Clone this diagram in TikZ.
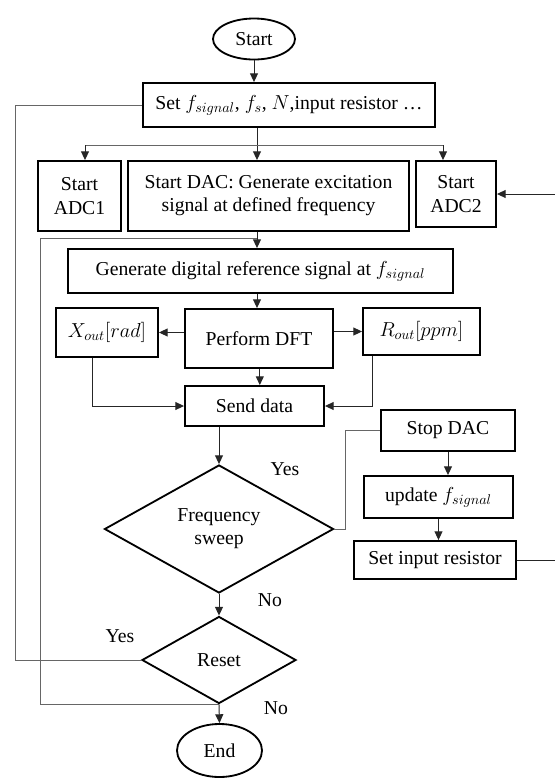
\documentclass[tikz,border=0pt]{standalone}
\usepackage{fontspec}
\setmainfont{Liberation Serif}
\usetikzlibrary{shapes.geometric,arrows.meta}

\begin{document}
\begin{tikzpicture}[x=0.025cm,y=-0.025cm,
	every node/.style={font=\fontsize{14}{16.5}\selectfont},
	box/.style={draw,line width=1.3pt,rectangle,align=center,inner sep=1pt},
	term/.style={draw,line width=1.3pt,ellipse,inner sep=0pt},
	cond/.style={draw,line width=1.3pt,diamond,align=center,inner sep=0pt},
	link/.style={draw=black!60,line width=0.6pt},
	flow/.style={draw=black!85,line width=0.7pt,-{Triangle[length=2.2mm,width=2mm]}}]
	\useasboundingbox (0,0) rectangle (554,778);
	\node[term,minimum width=2.05cm,minimum height=1.025cm] (start) at (254,39) {Start};
	\node[box,minimum width=7.3cm,minimum height=1.1cm] (set) at (289,105) {Set $f_{signal}$, $f_s$, $N$,input resistor \dots};
	\node[box,minimum width=2.075cm,minimum height=1.75cm] (adc1) at (79.5,196) {Start\\ADC1};
	\node[box,minimum width=7.025cm,minimum height=1.75cm] (dac) at (268.5,196) {Start DAC: Generate excitation\\signal at defined frequency};
	\node[box,minimum width=2cm,minimum height=1.65cm] (adc2) at (456,194) {Start\\ADC2};
	\node[box,minimum width=9.625cm,minimum height=1.1cm] (gen) at (260.5,271) {Generate digital reference signal at $f_{signal}$};
	\node[box,minimum width=2.55cm,minimum height=1.225cm] (xout) at (107,332.5) {$X_{out}[rad]$};
	\node[box,minimum width=3.7cm,minimum height=1.475cm] (dft) at (259,338.5) {Perform DFT};
	\node[box,minimum width=2.925cm,minimum height=1.175cm] (rout) at (421.5,331.5) {$R_{out}[ppm]$};
	\node[box,minimum width=3.475cm,minimum height=1cm] (send) at (254.5,406) {Send data};
	\node[box,minimum width=3.35cm,minimum height=1.025cm] (stop) at (448,430.5) {Stop DAC};
	\node[box,minimum width=3.725cm,minimum height=1.05cm] (upd) at (438.5,497) {update $f_{signal}$};
	\node[box,minimum width=4.05cm,minimum height=0.95cm] (setr) at (435,560) {Set input resistor};
	\node[cond,minimum width=5.725cm,minimum height=3.2cm] (sweep) at (219,529) {Frequency\\sweep};
	\node[cond,minimum width=3.85cm,minimum height=2.175cm] (reset) at (219,660) {Reset};
	\node[term,minimum width=2.125cm,minimum height=1.325cm] (end) at (219.5,750.5) {End};
	\node (yes1) at (285,469) {Yes};
	\node (no1) at (270,600) {No};
	\node (yes2) at (120,636) {Yes};
	\node (no2) at (276,708) {No};
	\coordinate (col) at (257,0);
	\coordinate (tl) at (85,145);
	\coordinate (tr) at (443,145);
	\coordinate (xo) at (92,0);
	\coordinate (ro) at (372,0);
	\coordinate (sw) at (345,0);
	\coordinate (rt) at (558,0);
	\coordinate (lf) at (15,0);
	\coordinate (lf2) at (40,238);
	\draw[flow] (start.south) -- (start.south |- set.north);
	\draw[flow] (col |- set.south) -- (col |- dac.north);
	\draw[link] (tl) -- (tr);
	\draw[flow] (tl) -- (tl |- adc1.north);
	\draw[flow] (tr) -- (tr |- adc2.north);
	\draw[flow] (col |- dac.south) -- (col |- gen.north);
	\draw[flow] (col |- gen.south) -- (col |- dft.north);
	\draw[flow] (xout.east -| dft.west) -- (xout.east);
	\draw[flow] (rout.west -| dft.east) -- (rout.west);
	\draw[flow] ([xshift=2pt]col |- dft.south) -- ([xshift=2pt]col |- send.north);
	\draw[flow] (xo |- xout.south) |- (send.west);
	\draw[flow] (ro |- rout.south) |- (send.east);
	\draw[flow] (sweep.north |- send.south) -- (sweep.north);
	\draw[link] (sweep.east) -| (sw |- stop.west) -- (stop.west);
	\draw[flow] (stop.south) -- (stop.south |- upd.north);
	\draw[flow] (upd.south) -- (upd.south |- setr.north);
	\draw[flow] (setr.east) -| (rt |- adc2.east) -- (adc2.east);
	\draw[flow] (sweep.south) -- (reset.north);
	\draw[link] (reset.west) -| (lf |- set.west) -- (set.west);
	\draw[link] (reset.south) -| (lf2) -- (col |- lf2);
	\draw[flow] (reset.south) -- (end.north);
\end{tikzpicture}
\end{document}
